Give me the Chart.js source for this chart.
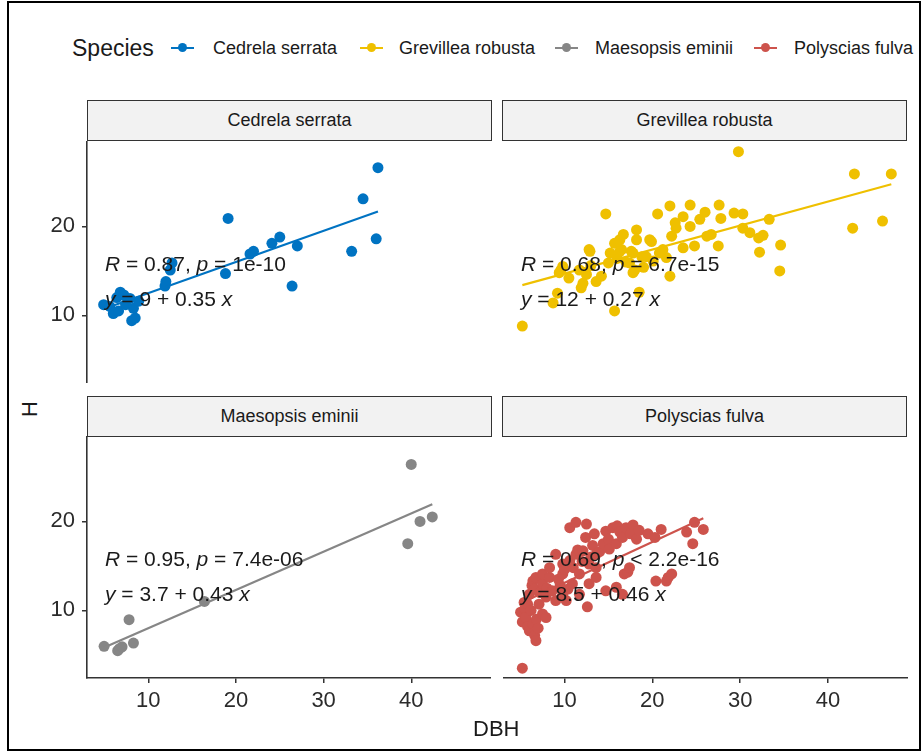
<!DOCTYPE html>
<html>
<head>
<meta charset="utf-8">
<title>H vs DBH by species</title>
<script src="https://cdn.jsdelivr.net/npm/chart.js@4.4.1/dist/chart.umd.min.js"></script>
<style>
  body {
    margin: 0;
    width: 922px;
    height: 752px;
    position: relative;
    overflow: hidden;
    background: #fff;
    font-family: "Liberation Sans", Arial, sans-serif;
  }
  #frame {
    position: absolute;
    left: 7px; top: 1px;
    width: 914px; height: 750px;
    border: 2px solid #000;
    box-sizing: border-box;
    z-index: 5;
    pointer-events: none;
  }
  #legend {
    position: absolute;
    left: 0; top: 30px;
    width: 919px; height: 36px;
    overflow: hidden;
  }
  #legend span { position: absolute; white-space: nowrap; color: #1a1a1a; }
  #legend .title { font-size: 23px; top: 5px; }
  #legend .item { font-size: 18px; top: 8px; }
  #legend .key { position: absolute; top: 17px; width: 23px; height: 2px; }
  #legend .key i {
    position: absolute; left: 7px; top: -4px;
    width: 9px; height: 9px; border-radius: 50%;
  }
  .strip {
    position: absolute;
    height: 41px;
    width: 405px;
    background: #f2f2f2;
    border: 1.6px solid #333;
    box-sizing: border-box;
    font-size: 18px;
    color: #1a1a1a;
    display: flex;
    align-items: center;
    justify-content: center;
  }
  canvas { position: absolute; }
  .axis-title { position: absolute; font-size: 22px; color: #1a1a1a; }
</style>
</head>
<body>
<div id="frame"></div>
<div id="legend"></div>

<div class="strip" style="left:87px;top:100px">Cedrela serrata</div>
<div class="strip" style="left:502px;top:100px">Grevillea robusta</div>
<div class="strip" style="left:87px;top:396px">Maesopsis eminii</div>
<div class="strip" style="left:502px;top:396px">Polyscias fulva</div>

<canvas id="p0" width="451" height="242" style="left:40px;top:141px"></canvas>
<canvas id="p1" width="405" height="242" style="left:503px;top:141px"></canvas>
<canvas id="p2" width="451" height="292" style="left:40px;top:436px"></canvas>
<canvas id="p3" width="405" height="292" style="left:503px;top:436px"></canvas>

<div class="axis-title" style="left:473px;top:716px">DBH</div>
<div class="axis-title" style="left:22px;top:396px;transform:rotate(-90deg)">H</div>

<script>
const speciesNames = ['Cedrela serrata', 'Grevillea robusta', 'Maesopsis eminii', 'Polyscias fulva'];
const speciesColors = ['#0073C2', '#EFC000', '#868686', '#CD534C'];

// fitted lines and correlation stats per species
const intercepts = [9, 12, 3.7, 8.5];
const slopes = [0.35, 0.27, 0.43, 0.46];
const rValues = ['0.87', '0.68', '0.95', '0.69'];
const pValues = ['= 1e-10', '= 6.7e-15', '= 7.4e-06', '< 2.2e-16'];

const xTicks = [10, 20, 30, 40];
const yTicks = [10, 20];

const cedrelaDBH = [4.9, 5.6, 6.0, 6.4, 6.6, 6.8, 7.2, 7.4, 7.9, 8.1, 8.3, 8.5, 8.9,
  11.9, 12.0, 12.5, 12.7, 18.8, 19.1, 21.6, 22.0, 24.1, 25.0, 26.4, 27.0, 33.2, 34.5, 36.0, 36.2];
const cedrelaH = [11.2, 11.0, 10.2, 12.0, 10.5, 12.6, 12.3, 11.2, 11.9, 9.4, 10.8, 9.7, 11.6,
  13.3, 13.8, 15.1, 15.9, 14.7, 20.9, 16.9, 17.2, 18.1, 18.8, 13.3, 17.8, 17.2, 23.1, 18.6, 26.6];

const grevilleaDBH = [5.2, 8.7, 9.2, 9.4, 9.6, 9.8, 10.5, 11.7, 11.9, 12.1, 12.5, 12.8, 12.9, 13.0,
  13.6, 14.2, 14.7, 15.0, 15.2, 15.7, 15.7, 16.0, 16.3, 16.3, 16.5, 16.7, 17.0, 17.4, 17.6, 17.8,
  17.8, 18.0, 18.2, 18.2, 18.5, 18.8, 19.0, 19.3, 19.7, 19.9, 20.1, 20.6, 20.8, 21.2, 21.6, 22.0,
  22.0, 22.2, 22.6, 22.7, 23.5, 23.5, 24.3, 24.3, 24.8, 25.4, 26.0, 26.2, 26.7, 27.5, 27.6, 27.8,
  29.3, 29.8, 30.3, 30.3, 31.1, 32.1, 32.2, 32.6, 33.3, 34.5, 34.6, 42.8, 43.0, 46.2, 47.2];
const grevilleaH = [8.8, 11.4, 12.5, 14.8, 15.1, 15.5, 14.2, 15.1, 13.1, 13.6, 14.6, 17.4, 17.2, 15.6,
  13.8, 14.4, 21.4, 15.9, 17.0, 10.5, 18.1, 16.4, 18.5, 17.2, 17.4, 19.1, 16.0, 15.9, 17.2, 17.0,
  14.8, 15.1, 19.6, 18.5, 12.6, 16.6, 15.4, 16.6, 18.5, 18.3, 16.1, 21.4, 17.0, 17.4, 16.5, 22.3,
  14.4, 18.9, 20.4, 19.8, 21.1, 17.6, 22.4, 20.0, 17.8, 20.8, 21.6, 18.9, 19.1, 17.8, 22.4, 20.9,
  21.5, 28.4, 21.4, 19.8, 19.3, 18.7, 17.1, 19.0, 20.8, 15.0, 17.9, 19.8, 25.9, 20.6, 25.9];

const maesopsisDBH = [4.95, 6.5, 6.7, 7.0, 7.8, 8.3, 16.4, 39.6, 40.0, 41.0, 42.4];
const maesopsisH = [5.96, 5.47, 5.7, 5.9, 8.95, 6.33, 11.0, 17.5, 26.4, 20.0, 20.5];

const polysciasDBH = [5.0, 5.2, 5.2, 5.4, 5.5, 5.6, 5.8, 5.8, 6.0, 6.0, 6.2, 6.3, 6.4, 6.4, 6.6,
  6.6, 6.75, 6.75, 6.8, 7.0, 7.1, 7.2, 7.5, 7.5, 7.5, 7.9, 7.9, 8.0, 8.3, 8.3, 8.6, 9.0, 9.0,
  9.3, 9.5, 9.8, 9.8, 9.8, 10.0, 10.2, 10.4, 10.6, 10.6, 10.9, 11.0, 11.3, 11.3, 11.5, 11.7,
  11.7, 12.0, 12.1, 12.4, 12.5, 12.6, 12.8, 12.8, 13.0, 13.2, 13.4, 13.6, 13.6, 13.6, 14.0,
  14.4, 14.7, 14.7, 15.0, 15.1, 15.5, 15.9, 15.9, 16.0, 16.3, 16.6, 16.6, 16.8, 17.0, 17.2,
  17.4, 17.5, 17.8, 18.2, 18.5, 19.5, 20.3, 20.4, 21.0, 21.6, 21.8, 22.2, 23.9, 24.6, 24.8, 25.8];
const polysciasH = [9.8, 3.5, 8.7, 10.9, 10.2, 9.2, 10.7, 8.2, 7.7, 11.8, 10.0, 12.8, 8.5, 13.3, 7.2,
  12.4, 6.6, 13.7, 9.0, 8.0, 10.7, 12.0, 9.6, 13.0, 14.1, 9.2, 11.5, 12.5, 13.7, 14.8, 12.2, 16.3, 11.1,
  13.5, 12.8, 11.8, 14.1, 15.2, 14.6, 11.1, 12.4, 19.3, 15.6, 13.0, 14.8, 16.3, 19.9, 16.8, 11.8,
  14.1, 15.5, 16.7, 18.2, 19.7, 10.4, 13.0, 15.2, 16.0, 17.3, 18.6, 13.7, 16.3, 14.8, 16.6,
  17.5, 12.2, 18.9, 18.0, 16.9, 19.3, 12.6, 17.5, 19.5, 18.8, 11.8, 18.2, 14.1, 19.3, 14.3,
  14.8, 18.6, 19.6, 18.0, 19.0, 18.6, 18.2, 13.3, 19.1, 13.3, 13.7, 14.1, 18.8, 17.5, 19.9, 19.1];

const dbhBySpecies = [cedrelaDBH, grevilleaDBH, maesopsisDBH, polysciasDBH];
const hBySpecies = [cedrelaH, grevilleaH, maesopsisH, polysciasH];

const FONT = '"Liberation Sans", Arial, sans-serif';

// legend row
const legend = document.getElementById('legend');
const keyCenters = [182, 371, 566, 765];
const textLefts = [213, 399, 595, 794];
legend.innerHTML = '<span class="title" style="left:72px">Species</span>' +
  speciesNames.map((name, i) =>
    `<span class="key" style="left:${keyCenters[i] - 11}px;background:${speciesColors[i]}"><i style="background:${speciesColors[i]}"></i></span>` +
    `<span class="item" style="left:${textLefts[i]}px">${name}</span>`).join('');

function drawParts(ctx, parts, x, y) {
  let cx = x;
  parts.forEach(([text, italic]) => {
    ctx.font = (italic ? 'italic ' : '') + '21px ' + FONT;
    ctx.fillText(text, cx, y);
    cx += ctx.measureText(text).width;
  });
}

// R / p and regression equation, placed in data coordinates
const statLabels = {
  id: 'statLabels',
  afterDatasetsDraw(chart, args, opts) {
    const i = opts.species;
    const { ctx, scales: { x, y } } = chart;
    const left = x.getPixelForValue(5.05);
    ctx.save();
    ctx.fillStyle = '#1a1a1a';
    ctx.textBaseline = 'alphabetic';
    drawParts(ctx, [['R', true], [' = ' + rValues[i] + ', ', false], ['p', true], [' ' + pValues[i], false]],
      left, y.getPixelForValue(15.0));
    drawParts(ctx, [['y', true], [' = ' + intercepts[i] + ' + ' + slopes[i] + ' ', false], ['x', true]],
      left, y.getPixelForValue(11.05));
    ctx.restore();
  }
};

function makePanel(i, showX, showY) {
  const xs = dbhBySpecies[i];
  const ys = hBySpecies[i];
  const points = xs.map((v, k) => ({ x: v, y: ys[k] }));
  const x0 = Math.min(...xs);
  const x1 = Math.max(...xs);
  const fit = [x0, x1].map(v => ({ x: v, y: intercepts[i] + slopes[i] * v }));

  const axisCommon = {
    type: 'linear',
    grid: { drawOnChartArea: false, drawTicks: true, tickLength: 5, color: '#333', lineWidth: 1.5 },
    border: { display: true, color: '#333', width: 1.6 },
    ticks: { color: '#2b2b2b', font: { size: 22, family: FONT }, autoSkip: false, maxRotation: 0 }
  };

  new Chart(document.getElementById('p' + i), {
    data: {
      datasets: [
        { type: 'line', data: fit, borderColor: speciesColors[i], borderWidth: 2.2,
          pointRadius: 0, fill: false, tension: 0 },
        { type: 'scatter', data: points, backgroundColor: speciesColors[i],
          borderWidth: 0, pointRadius: 5.5, pointHoverRadius: 5.5 }
      ]
    },
    options: {
      responsive: false,
      animation: false,
      events: [],
      layout: { padding: 0, autoPadding: false },
      plugins: {
        legend: { display: false },
        tooltip: { enabled: false },
        statLabels: { species: i }
      },
      scales: {
        x: {
          ...axisCommon,
          min: 3.0, max: 49.1,
          display: showX,
          ticks: { ...axisCommon.ticks, padding: 5 },
          afterBuildTicks: s => { s.ticks = xTicks.map(v => ({ value: v })); },
          afterFit: s => {
            if (!showX) return;
            s.height = 50; s.paddingLeft = 0; s.paddingRight = 0;
          }
        },
        y: {
          ...axisCommon,
          min: 2.4, max: 29.6,
          display: showY,
          ticks: { ...axisCommon.ticks, padding: 7 },
          afterBuildTicks: s => { s.ticks = yTicks.map(v => ({ value: v })); },
          afterFit: s => {
            if (!showY) return;
            s.width = 47; s.paddingTop = 0; s.paddingBottom = 0;
          }
        }
      }
    },
    plugins: [statLabels]
  });
}

makePanel(0, false, true);
makePanel(1, false, false);
makePanel(2, true, true);
makePanel(3, true, false);
</script>
</body>
</html>
